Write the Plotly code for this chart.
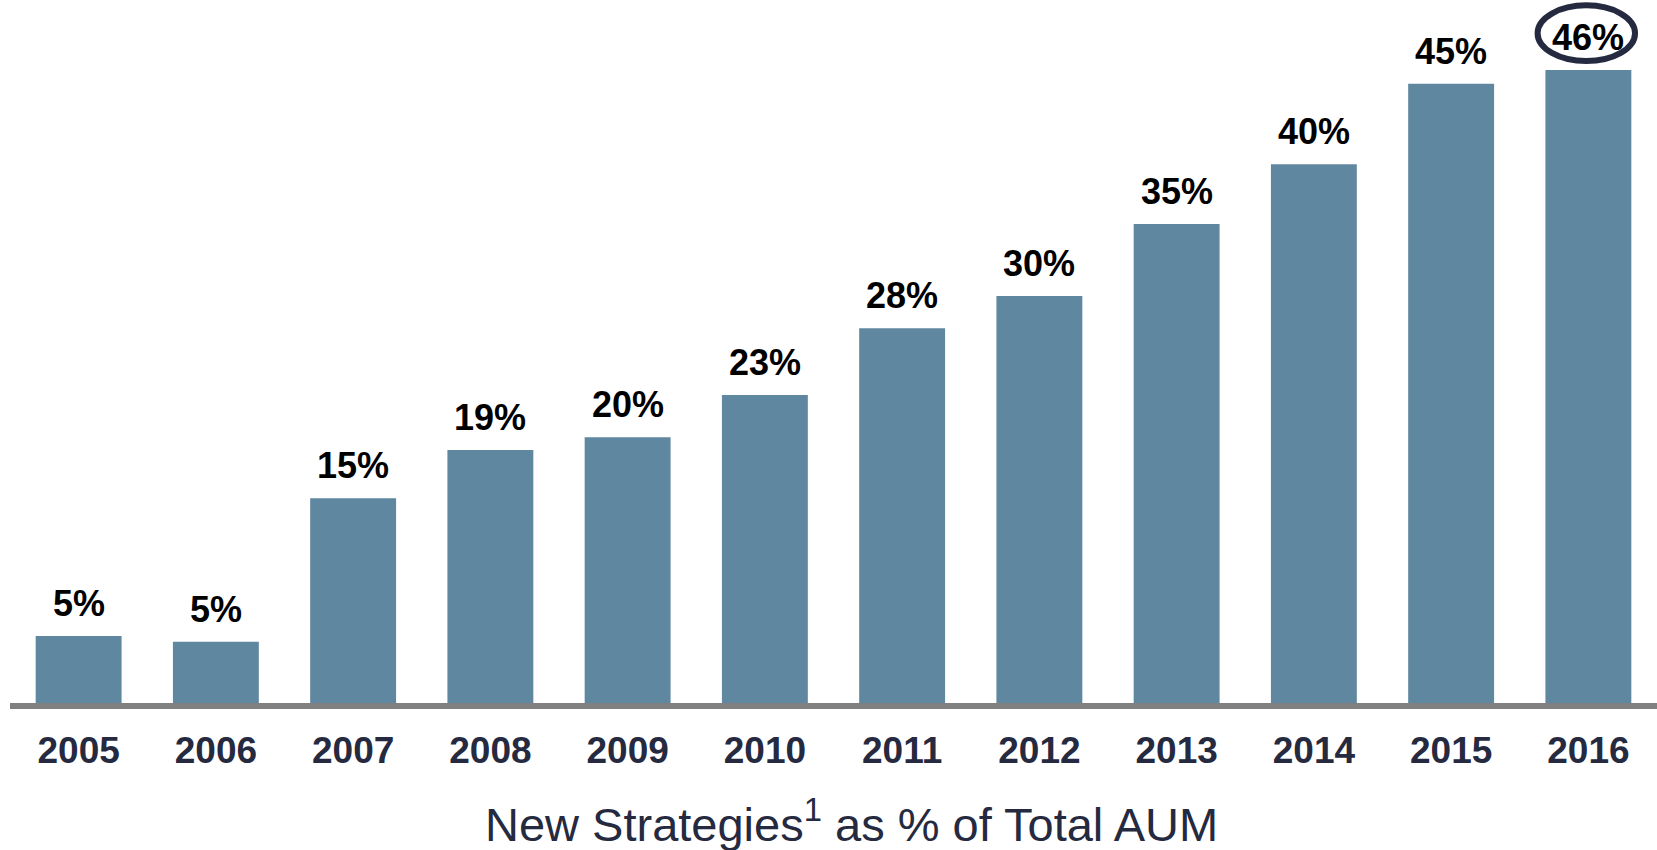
import plotly.graph_objects as go

# --- data ---
years = ["2005", "2006", "2007", "2008", "2009", "2010",
         "2011", "2012", "2013", "2014", "2015", "2016"]
share_pct = [4.87, 4.45, 14.88, 18.39, 19.31, 22.38,
             27.23, 29.58, 34.81, 39.15, 45.01, 46.0]
share_labels = ["5%", "5%", "15%", "19%", "20%", "23%",
                "28%", "30%", "35%", "40%", "45%", "46%"]
chart_title = "New Strategies<sup>1</sup> as % of Total AUM"

BAR = "#5F87A0"
NAVY = "#252A40"
AXIS = "#808080"
FONT = "Liberation Sans, Arial, sans-serif"

fig = go.Figure()
fig.add_trace(go.Bar(
    x=years, y=share_pct,
    marker=dict(color=BAR, line=dict(width=0)),
    hoverinfo="skip",
))

# value labels sitting above each bar (category axis -> use the index)
for i, (val, lab) in enumerate(zip(share_pct, share_labels)):
    fig.add_annotation(
        x=i, y=val, xref="x", yref="y",
        text=f"<b>{lab}</b>", showarrow=False,
        yanchor="bottom", yshift=10,
        font=dict(family=FONT, size=36, color="black"),
    )

# highlight ellipse around the last label
last = len(years) - 1
fig.add_shape(
    type="circle", xref="x", yref="y",
    x0=last - 0.37, x1=last + 0.34,
    y0=share_pct[-1] + 0.65, y1=share_pct[-1] + 4.7,
    line=dict(color=NAVY, width=6),
)

fig.add_annotation(
    text=chart_title, xref="paper", yref="paper",
    x=0.511, y=-0.168, xanchor="center", yanchor="middle",
    showarrow=False,
    font=dict(family=FONT, size=47, color=NAVY),
)

fig.update_layout(
    width=1657, height=850,
    paper_bgcolor="white", plot_bgcolor="white",
    margin=dict(l=10, r=0, t=0, b=147),
    bargap=0.374,
    showlegend=False,
    xaxis=dict(
        type="category", range=[-0.5, len(years) - 0.5],
        showline=True, linecolor=AXIS, linewidth=6,
        showgrid=False, zeroline=False, ticks="",
        ticklabelstandoff=10,
        tickfont=dict(family=FONT, size=37, color=NAVY, weight="bold"),
    ),
    yaxis=dict(
        range=[0, 51.09], visible=False,
        showgrid=False, zeroline=False,
    ),
)

# drop the browser's default 8px body margin so the figure sits at (0, 0)
fig.write_html("out.html", config={"displayModeBar": False},
               post_script="document.body.style.margin='0';")
